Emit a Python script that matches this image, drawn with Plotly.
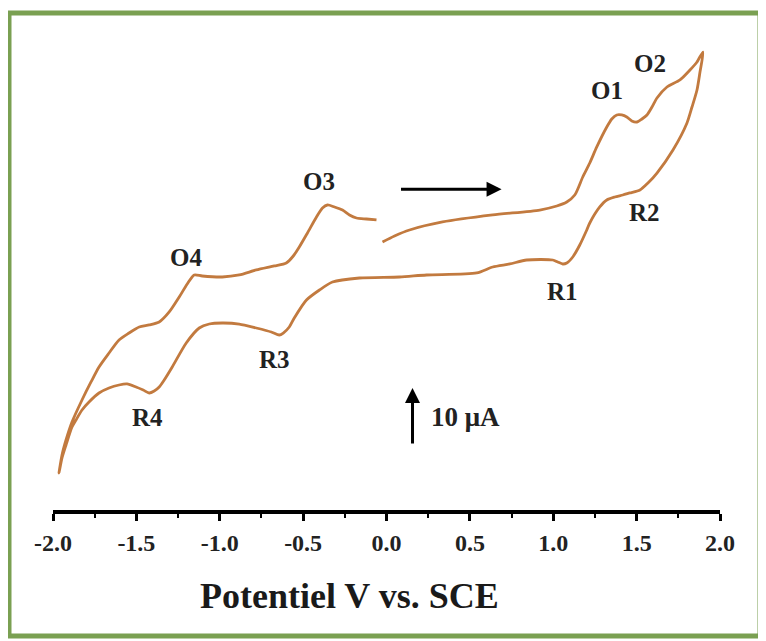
import plotly.graph_objects as go

# Cyclic voltammogram: potential (V vs SCE) and current (uA), in scan order
potential = [
    -0.024, 0.048, 0.138, 0.336, 0.637, 0.919, 1.021, 1.081, 1.129, 1.177,
    1.219, 1.261, 1.321, 1.351, 1.381, 1.411, 1.441, 1.471, 1.502, 1.532,
    1.562, 1.592, 1.622, 1.682, 1.760, 1.820, 1.862, 1.898,
    1.880, 1.862, 1.832, 1.802, 1.718, 1.622, 1.568, 1.520, 1.459, 1.417,
    1.369, 1.321, 1.279, 1.219, 1.201, 1.159, 1.117, 1.081, 1.057, 1.027,
    0.997, 0.841, 0.739, 0.637, 0.541, 0.240, 0.078, -0.162, -0.324, -0.402,
    -0.480, -0.553, -0.583, -0.619, -0.643, -0.691, -0.781, -0.883, -0.985,
    -1.063, -1.123, -1.201, -1.285, -1.333, -1.363, -1.393, -1.423, -1.459,
    -1.502, -1.556, -1.604, -1.664, -1.724, -1.784, -1.826, -1.862, -1.886,
    -1.922, -1.946, -1.964,
    -1.946, -1.922, -1.886, -1.826, -1.772, -1.724, -1.664, -1.604, -1.544,
    -1.483, -1.423, -1.363, -1.303, -1.243, -1.195, -1.153, -1.105, -0.985,
    -0.883, -0.781, -0.673, -0.601, -0.559, -0.523, -0.474, -0.420, -0.384,
    -0.354, -0.312, -0.264, -0.222, -0.180, -0.120, -0.060,
]
current = [
    15.44, 16.49, 17.54, 18.95, 20.18, 21.05, 21.75, 22.46, 23.68, 26.84,
    29.30, 32.11, 35.61, 37.02, 37.72, 37.72, 37.37, 36.67, 36.49, 37.02,
    37.72, 39.12, 40.70, 42.63, 43.86, 45.61, 47.02, 48.77,
    45.26, 42.11, 39.12, 36.32, 31.58, 27.54, 25.79, 24.56, 24.04, 23.68,
    23.33, 22.81, 21.58, 18.77, 17.54, 14.91, 12.81, 11.75, 11.58, 11.93,
    12.28, 12.28, 11.58, 11.05, 10.00, 9.65, 9.30, 9.12, 8.42, 7.02,
    5.26, 2.11, 0.53, -0.53, -0.88, -0.35, 0.35, 1.05, 1.23,
    1.05, 0.35, -2.28, -6.49, -8.77, -10.00, -10.70, -11.05, -10.53,
    -10.00, -9.47, -9.65, -10.18, -11.05, -12.63, -14.04, -15.79, -17.02,
    -20.18, -22.46, -25.09,
    -21.93, -19.30, -16.14, -12.28, -9.12, -6.49, -4.04, -1.75, -0.53,
    0.53, 0.88, 1.40, 3.16, 5.79, 8.07, 9.65, 9.47, 9.30,
    9.65, 10.53, 11.23, 11.75, 12.98, 14.56, 17.02, 19.82, 21.40,
    21.93, 21.58, 21.05, 20.18, 19.65, 19.47, 19.30,
]

# Peak labels
peak_names = ["O1", "O2", "O3", "O4", "R1", "R2", "R3", "R4"]
peak_x = [1.321, 1.580, -0.402, -1.201, 1.057, 1.550, -0.673, -1.435]
peak_y = [42.1, 46.8, 26.1, 12.8, 6.84, 20.7, -5.09, -15.4]

tick_vals = [-2.0, -1.5, -1.0, -0.5, 0.0, 0.5, 1.0, 1.5, 2.0]
tick_text = ["-2.0", "-1.5", "-1.0", "-0.5", "0.0", "0.5", "1.0", "1.5", "2.0"]

scale_bar_uA = 10.0
scale_bar_x = 0.156
scale_bar_base = -20.18

SERIF = "Liberation Serif, Times New Roman, serif"

fig = go.Figure()
fig.add_trace(go.Scatter(
    x=potential, y=current, mode="lines",
    line=dict(color="#c27a3f", width=2.8, shape="spline", smoothing=0.7),
    hoverinfo="skip", showlegend=False,
))

annotations = []
for name, px, py in zip(peak_names, peak_x, peak_y):
    annotations.append(dict(
        x=px, y=py, xref="x", yref="y", text=name, showarrow=False,
        xanchor="center", yanchor="middle",
        font=dict(family=SERIF, size=25, color="#222222", weight="bold"),
    ))

# scan direction arrow
annotations.append(dict(
    x=0.69, y=24.7, ax=0.078, ay=24.7, xref="x", yref="y", axref="x", ayref="y",
    text="", showarrow=True, arrowhead=2, arrowsize=1.0, arrowwidth=3,
    arrowcolor="black",
))
# current scale bar
annotations.append(dict(
    x=scale_bar_x, y=scale_bar_base + scale_bar_uA,
    ax=scale_bar_x, ay=scale_bar_base, xref="x", yref="y", axref="x", ayref="y",
    text="", showarrow=True, arrowhead=2, arrowsize=1.0, arrowwidth=3,
    arrowcolor="black",
))
annotations.append(dict(
    x=0.255, y=scale_bar_base + scale_bar_uA / 2, xref="x", yref="y",
    text="10 μA", showarrow=False, xanchor="left", yanchor="middle",
    font=dict(family=SERIF, size=27, color="#222222", weight="bold"),
))
# axis title
annotations.append(dict(
    x=(349 - 53) / 667, y=(510 - 596) / 480, xref="paper", yref="paper",
    text="Potentiel V vs. SCE", showarrow=False,
    xanchor="center", yanchor="middle",
    font=dict(family=SERIF, size=36, color="#1a1a1a", weight="bold"),
))

fig.update_layout(
    width=758, height=633,
    margin=dict(l=45, r=46, t=22, b=131),
    paper_bgcolor="white", plot_bgcolor="white",
    annotations=annotations,
    shapes=[dict(
        type="rect", xref="paper", yref="paper",
        x0=(9 - 53) / 667, x1=(760 - 53) / 667,
        y0=(510 - 636) / 480, y1=(510 - 13) / 480,
        line=dict(color="#7aa052", width=5), fillcolor="rgba(0,0,0,0)",
        layer="below",
    )],
    xaxis=dict(
        range=[-2.0, 2.0], showgrid=False, zeroline=False,
        showline=True, linecolor="black", linewidth=3.5,
        ticks="outside", ticklen=7, tickwidth=2.5, tickcolor="black",
        tickvals=tick_vals, ticktext=tick_text,
        ticklabelstandoff=1,
        tickfont=dict(family=SERIF, size=24, color="#222222", weight="bold"),
        minor=dict(dtick=0.25, ticks="outside", ticklen=4, tickwidth=2, tickcolor="black"),
    ),
    yaxis=dict(range=[-31.58, 52.63], visible=False),
)

fig.write_html("out.html")
